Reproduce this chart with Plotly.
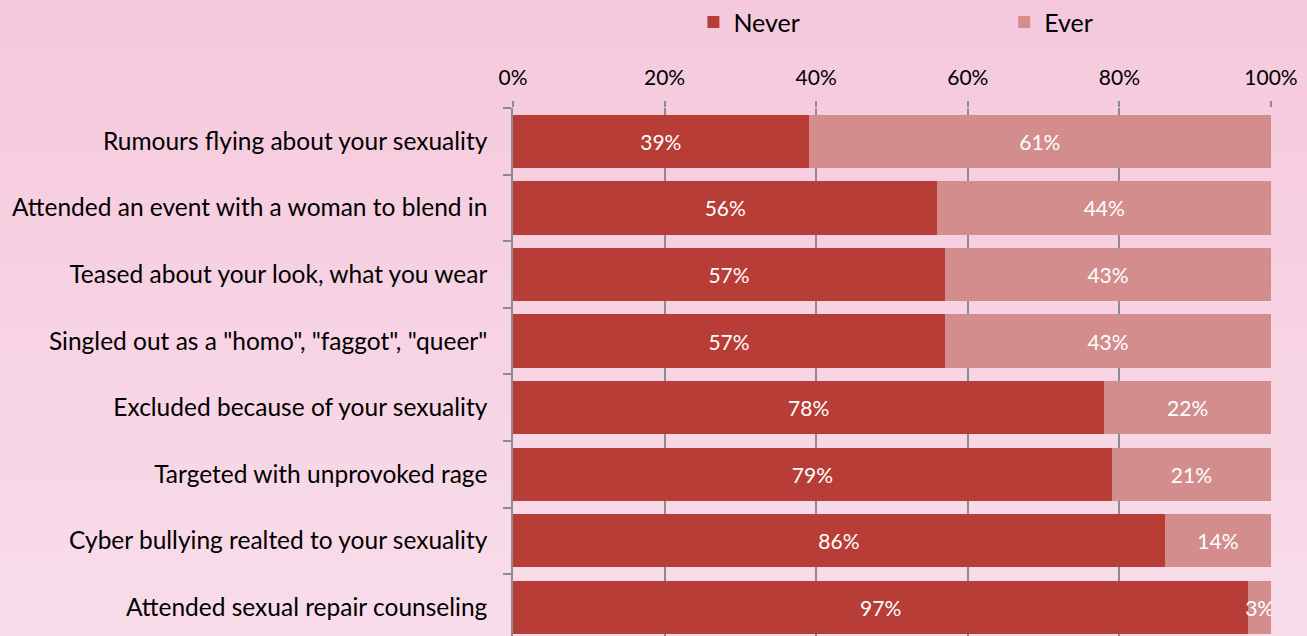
import plotly.graph_objects as go

categories = [
    "Rumours flying about your sexuality",
    "Attended an event with a woman to blend in",
    "Teased about your look, what you wear",
    "Singled out as a \"homo\", \"faggot\", \"queer\"",
    "Excluded because of your sexuality",
    "Targeted with unprovoked rage",
    "Cyber bullying realted to your sexuality",
    "Attended sexual repair counseling",
]
never = [39, 56, 57, 57, 78, 79, 86, 97]
ever = [61, 44, 43, 43, 22, 21, 14, 3]
x_ticks = [0, 20, 40, 60, 80, 100]
x_tick_labels = ["0%", "20%", "40%", "60%", "80%", "100%"]

FONT = "Lato"

fig = go.Figure()
fig.add_trace(go.Bar(
    y=categories, x=never, name="Never", orientation="h",
    marker=dict(color="#b93d37", line=dict(width=0)),
    text=[f"{v}%" for v in never], textposition="inside", textangle=0,
    insidetextanchor="middle", constraintext="none",
    textfont=dict(color="white", size=21, family=FONT),
    legend="legend",
))
fig.add_trace(go.Bar(
    y=categories, x=ever, name="Ever", orientation="h",
    marker=dict(color="#d38d8c", line=dict(width=0)),
    text=[f"{v}%" for v in ever], textposition="inside", textangle=0,
    insidetextanchor="middle", constraintext="none",
    textfont=dict(color="white", size=21, family=FONT),
    legend="legend2",
))

# background gradient
n = 30
top = (245, 200, 220)
bot = (248, 220, 233)
shapes = []
for i in range(n):
    t = i / (n - 1)
    c = tuple(int(round(top[k] + (bot[k] - top[k]) * t)) for k in range(3))
    shapes.append(dict(
        type="rect", xref="paper", yref="paper",
        x0=-1.0, x1=1.1,
        y0=1.25 - (i + 1) * (1.25 / n) - 0.001, y1=1.25 - i * (1.25 / n) + 0.001,
        fillcolor=f"rgb{c}", line=dict(width=0), layer="below",
    ))

leg_common = dict(
    orientation="h", yref="container", y=0.965, yanchor="middle",
    xanchor="left", font=dict(size=25, family=FONT),
    bgcolor="rgba(0,0,0,0)",
)

fig.update_layout(
    width=1307, height=636,
    barmode="stack", bargap=0.2,
    paper_bgcolor="#f5c8dc", plot_bgcolor="rgba(0,0,0,0)",
    margin=dict(l=513, r=36, t=108, b=0, autoexpand=False),
    font=dict(family=FONT, color="black"),
    shapes=shapes,
    legend=dict(x=0.238, **leg_common),
    legend2=dict(x=0.648, **leg_common),
    xaxis=dict(
        side="top", range=[0, 100], tickvals=x_ticks, ticktext=x_tick_labels,
        showgrid=True, gridcolor="#8c8c8c", gridwidth=1.5,
        ticks="outside", ticklen=6, tickcolor="#8c8c8c", tickwidth=1.5,
        tickfont=dict(size=21, family=FONT), zeroline=False, showline=False,
        ticklabelstandoff=8, fixedrange=True,
    ),
    yaxis=dict(
        categoryorder="array", categoryarray=categories,
        range=[7.43, -0.5], autorange=False,
        ticks="outside", tickson="boundaries", ticklen=8, tickcolor="#8c8c8c",
        tickwidth=1.5, showline=True, linecolor="#8c8c8c", linewidth=1.5,
        tickfont=dict(size=24.5, family=FONT), ticklabelstandoff=19,
        showgrid=False, fixedrange=True,
    ),
    showlegend=True,
)

fig.write_html(
    "out.html",
    config={"displayModeBar": False},
    post_script="document.body.style.margin='0';document.body.style.overflow='hidden';",
)
